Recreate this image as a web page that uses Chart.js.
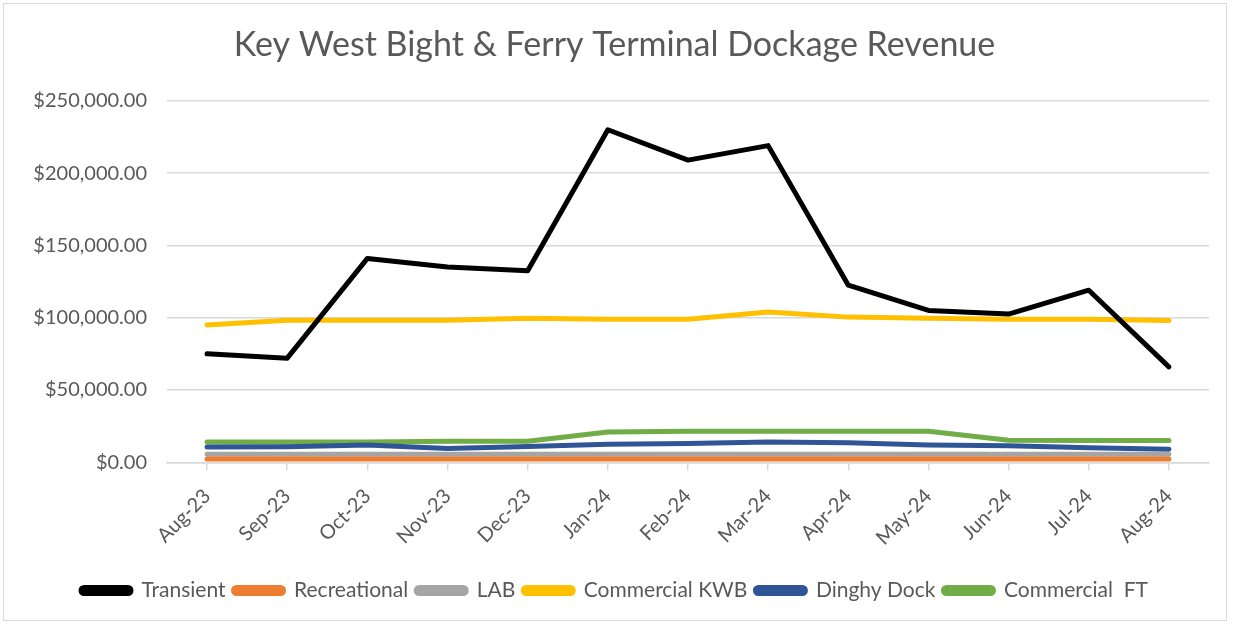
<!DOCTYPE html>
<html>
<head>
<meta charset="utf-8">
<script src="https://cdn.jsdelivr.net/npm/chart.js@4"></script>
<style>
  html, body { margin: 0; padding: 0; background: #fff; }
  #wrap { position: relative; width: 1234px; height: 627px; }
  #frame { position: absolute; left: 3px; top: 3px; width: 1222px; height: 616px; border: 1px solid #d9d9d9; }
  canvas { position: absolute; left: 0; top: 0; }
</style>
</head>
<body>
<div id="wrap">
  <div id="frame"></div>
  <canvas id="c" width="1234" height="627"></canvas>
</div>
<script>
// ---------- DATA ----------
const months = ["Aug-23", "Sep-23", "Oct-23", "Nov-23", "Dec-23", "Jan-24", "Feb-24",
  "Mar-24", "Apr-24", "May-24", "Jun-24", "Jul-24", "Aug-24"];
const transient = [75000, 72000, 141000, 135000, 132500, 230000, 209000, 219000, 122500, 105000, 102500, 119000, 66000];
const recreational = [2200, 2200, 2200, 2300, 2300, 2300, 2300, 2300, 2300, 2300, 2300, 2300, 2300];
const lab = [5500, 5500, 5600, 5500, 5500, 5600, 5600, 5600, 5600, 5600, 5500, 5500, 5500];
const commercialKWB = [95000, 98300, 98300, 98300, 99700, 99000, 99000, 104000, 100400, 99700, 99000, 99000, 98000];
const dinghyDock = [10500, 10800, 12000, 9500, 11000, 12500, 13000, 14000, 13500, 12000, 11500, 10000, 9000];
const commercialFT = [14000, 14000, 14000, 14500, 14500, 21000, 21500, 21500, 21500, 21500, 15200, 15000, 15000];

const FONT = "Lato, 'Open Sans', sans-serif";
const TXT = "#595959";

function ds(label, data, color) {
  return {
    label, data,
    borderColor: color, backgroundColor: color,
    borderWidth: 5, pointRadius: 0, tension: 0,
    borderJoinStyle: "round", borderCapStyle: "round",
  };
}

const money = (v) => "$" + v.toLocaleString("en-US", { minimumFractionDigits: 2, maximumFractionDigits: 2 });

new Chart(document.getElementById("c"), {
  type: "line",
  data: {
    labels: months,
    datasets: [
      ds("Transient", transient, "#000000"),
      ds("Recreational", recreational, "#ED7D31"),
      ds("LAB", lab, "#A5A5A5"),
      ds("Commercial KWB", commercialKWB, "#FFC000"),
      ds("Dinghy Dock", dinghyDock, "#2F5597"),
      ds("Commercial  FT", commercialFT, "#70AD47"),
    ],
  },
  options: {
    responsive: false,
    animation: false,
    layout: { padding: { top: 10, left: 20, right: 25, bottom: 16 } },
    plugins: {
      title: {
        display: true,
        text: "Key West Bight & Ferry Terminal Dockage Revenue",
        color: TXT,
        font: { family: FONT, size: 34, weight: "normal" },
        padding: { top: 15, bottom: 35 },
      },
      legend: {
        position: "bottom",
        labels: {
          color: TXT,
          font: { family: FONT, size: 21 },
          boxWidth: 50, boxHeight: 6, padding: 8,
          useBorderRadius: true, borderRadius: 3,
        },
      },
      tooltip: { enabled: false },
    },
    scales: {
      x: {
        offset: true,
        grid: { drawOnChartArea: false, color: "#d9d9d9", tickLength: 8, lineWidth: 1.5 },
        border: { color: "#d9d9d9", width: 1.5 },
        ticks: { color: TXT, font: { family: FONT, size: 20 }, padding: 14, minRotation: 45, maxRotation: 45, autoSkip: false },
        afterFit: (s) => { s.height += 8; },
      },
      y: {
        min: 0, max: 250000,
        grid: { color: "#d9d9d9", drawTicks: false, lineWidth: 1.5 },
        border: { display: false },
        ticks: { stepSize: 50000, color: TXT, font: { family: FONT, size: 20 }, padding: 20, callback: money },
        afterFit: (s) => { s.width = 147; },
      },
    },
  },
});
</script>
</body>
</html>
